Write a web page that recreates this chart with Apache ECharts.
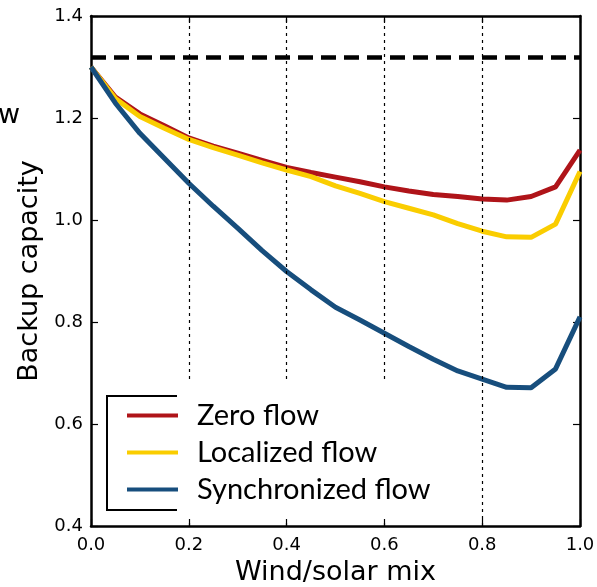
<!DOCTYPE html>
<html>
<head>
<meta charset="utf-8">
<script src="https://cdn.jsdelivr.net/npm/echarts@6/dist/echarts.min.js"></script>
<style>
  html, body { margin: 0; padding: 0; background: #fff; }
  #main { width: 597px; height: 587px; }
</style>
</head>
<body>
<!-- chart container -->
<div id="main"></div>
<script>
// wind/solar mix values (x)
var mix = [0, 0.05, 0.1, 0.15, 0.2, 0.25, 0.3, 0.35, 0.4, 0.45, 0.5,
  0.55, 0.6, 0.65, 0.7, 0.75, 0.8, 0.85, 0.9, 0.95, 1.0]
var zeroFlow = [1.300, 1.241, 1.208, 1.185, 1.161, 1.145, 1.131, 1.117, 1.103, 1.093, 1.084,
  1.075, 1.065, 1.057, 1.050, 1.046, 1.041, 1.039, 1.046, 1.065, 1.137]
var localizedFlow = [1.300, 1.238, 1.203, 1.180, 1.158, 1.142, 1.127, 1.112, 1.098, 1.085, 1.067,
  1.052, 1.036, 1.023, 1.010, 0.993, 0.978, 0.967, 0.966, 0.992, 1.095]
var synchronizedFlow = [1.300, 1.229, 1.170, 1.121, 1.072, 1.027, 0.984, 0.940, 0.899, 0.863, 0.829,
  0.804, 0.778, 0.752, 0.727, 0.704, 0.688, 0.672, 0.671, 0.708, 0.810]
var seriesNames = ['Zero flow', 'Localized flow', 'Synchronized flow']
var refLevel = 1.32
var gridX = [0.2, 0.4, 0.6, 0.8]
var xTicks = [0, 0.2, 0.4, 0.6, 0.8, 1.0]
var yTicks = [0.4, 0.6, 0.8, 1.0, 1.2, 1.4]

function pairs(ys) {
  return mix.map(function (x, i) { return [x, ys[i]] })
}

var myChart = echarts.init(document.getElementById('main'))

var axisCommon = {
  axisLine: { show: true, onZero: false, lineStyle: { color: '#000', width: 2.5 } },
  axisTick: { show: true, inside: true, length: 7, lineStyle: { color: '#000', width: 1.2 } },
  splitLine: { show: false }
}

var option = {
  animation: false,
  backgroundColor: '#fff',
  grid: { left: 91, right: 17, top: 16, bottom: 61, outerBoundsMode: 'none', containLabel: false },
  xAxis: [
    Object.assign({
      type: 'value', min: xTicks[0], max: xTicks[xTicks.length - 1], interval: 0.2,
      position: 'bottom',
      name: 'Wind/solar mix', nameLocation: 'middle', nameGap: 33,
      nameTextStyle: { fontFamily: 'DejaVu Sans', fontSize: 27, color: '#000' },
      axisLabel: {
        margin: 10, fontFamily: 'DejaVu Sans', fontSize: 18, color: '#000',
        formatter: function (v) { return v.toFixed(1) }
      }
    }, axisCommon),
    Object.assign({
      type: 'value', min: 0, max: 1, interval: 0.2, position: 'top',
      axisLabel: { show: false }
    }, axisCommon)
  ],
  yAxis: [
    Object.assign({
      type: 'value', min: yTicks[0], max: yTicks[yTicks.length - 1], interval: 0.2,
      position: 'left',
      name: 'Backup capacity', nameLocation: 'middle', nameGap: 47,
      nameTextStyle: { fontFamily: 'DejaVu Sans', fontSize: 27, color: '#000' },
      axisLabel: {
        margin: 8, fontFamily: 'DejaVu Sans', fontSize: 18, color: '#000',
        formatter: function (v) { return v.toFixed(1) }
      }
    }, axisCommon),
    Object.assign({
      type: 'value', min: 0.4, max: 1.4, interval: 0.2, position: 'right',
      axisLabel: { show: false }
    }, axisCommon)
  ],
  legend: {
    orient: 'vertical',
    left: 122,
    top: 395,
    z: 20,
    icon: 'rect',
    itemWidth: 51,
    itemHeight: 4,
    itemGap: 6,
    data: seriesNames,
    textStyle: {
      fontFamily: 'Lato', fontSize: 29, color: '#000',
      lineHeight: 31, padding: [0, 0, 0, 14]
    }
  },
  graphic: [
    // white legend background
    {
      type: 'rect', z: 10, silent: true,
      shape: { x: 102, y: 379, width: 363, height: 140 },
      style: { fill: '#fff' }
    },
    // legend frame (left part only)
    {
      type: 'polyline', z: 11, silent: true,
      shape: { points: [[177, 396], [107, 396], [107, 510], [177, 510]] },
      style: { stroke: '#000', lineWidth: 2, fill: null }
    },
    // clipped text at the left edge
    {
      type: 'text', z: 11, silent: true,
      style: { text: 'w', x: -2, y: 116, verticalAlign: 'middle',
        font: '27px "DejaVu Sans"', fill: '#000' }
    }
  ],
  series: [
    {
      name: seriesNames[0], type: 'line', showSymbol: false, symbol: 'none',
      data: pairs(zeroFlow),
      color: '#AF1419',
      lineStyle: { width: 5, color: '#AF1419' },
      markLine: {
        silent: true, symbol: 'none', label: { show: false },
        data: gridX.map(function (x) {
          return { xAxis: x, lineStyle: { color: '#000', width: 1.2, type: [3, 4] } }
        }).concat([
          { yAxis: refLevel, lineStyle: { color: '#000', width: 4.5, type: [15, 8] } }
        ])
      }
    },
    {
      name: seriesNames[1], type: 'line', showSymbol: false, symbol: 'none',
      data: pairs(localizedFlow),
      color: '#FACD00',
      lineStyle: { width: 5, color: '#FACD00' }
    },
    {
      name: seriesNames[2], type: 'line', showSymbol: false, symbol: 'none',
      data: pairs(synchronizedFlow),
      color: '#174E7D',
      lineStyle: { width: 5, color: '#174E7D' }
    }
  ]
}
myChart.setOption(option)
</script>
</body>
</html>
